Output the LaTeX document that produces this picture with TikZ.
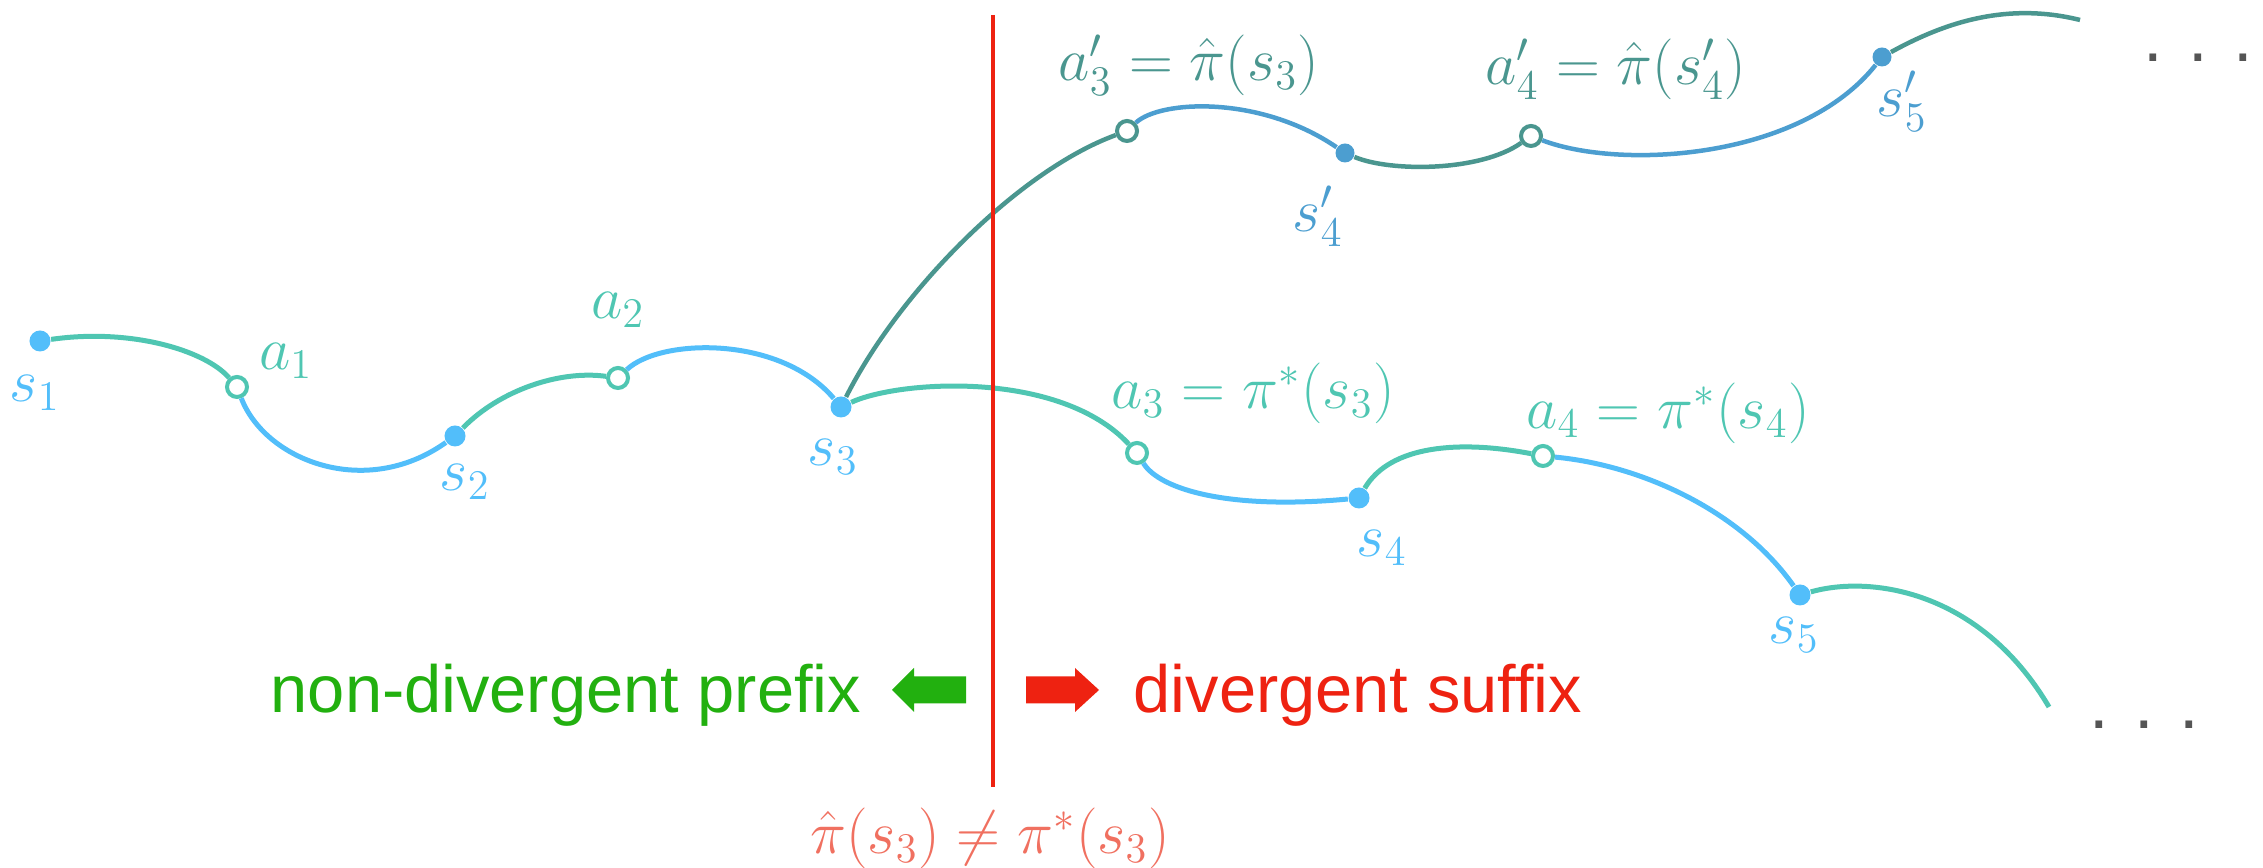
\documentclass[tikz,border=0pt]{standalone}
\usepackage{fontspec}
\setmainfont{Liberation Serif}
\setsansfont{Liberation Sans}
\definecolor{lteal}{HTML}{4FC6B2}
\definecolor{lblue}{HTML}{52BEFA}
\definecolor{uteal}{HTML}{4A968F}
\definecolor{ublue}{HTML}{4C9ED0}
\definecolor{pgreen}{HTML}{22B00F}
\definecolor{pred}{HTML}{EE2211}
\definecolor{psalmon}{HTML}{F07060}
\definecolor{dotgrey}{HTML}{555555}
\begin{document}
\begin{tikzpicture}[x=0.01cm,y=-0.01cm,
  statedot/.style={circle,fill=#1,inner sep=0pt,minimum size=0.21cm},
  ustatedot/.style={circle,fill=#1,inner sep=0pt,minimum size=0.19cm},
  actcircle/.style={circle,draw=#1,fill=white,line width=0.04cm,inner sep=0pt,minimum size=0.20cm},
  seg/.style={line width=0.05cm,draw=#1},
  useg/.style={line width=0.045cm,draw=#1},
  mlab/.style={text=#1,font=\fontsize{16.5}{20}\selectfont,inner sep=0pt},
  sanslab/.style={text=#1,font=\sffamily\fontsize{19}{22}\selectfont,inner sep=0pt},
  ell/.style={text=dotgrey,font=\sffamily\fontsize{20}{24}\selectfont,inner sep=0pt,anchor=base}
]
\useasboundingbox (0,0) rectangle (2263,868);
% lower trajectory
\node[statedot=lblue] (s1) at (40,341) {};
\node[actcircle=lteal] (a1) at (237,387) {};
\node[statedot=lblue] (s2) at (455,436) {};
\node[actcircle=lteal] (a2) at (618,378) {};
\node[statedot=lblue] (s3) at (841,407) {};
\node[actcircle=lteal] (a3) at (1137,453) {};
\node[statedot=lblue] (s4) at (1359,498) {};
\node[actcircle=lteal] (a4) at (1543,456) {};
\node[statedot=lblue] (s5) at (1800,595) {};
\coordinate (e1) at (2049,707);
% upper trajectory
\node[actcircle=uteal] (a3p) at (1127,131) {};
\node[ustatedot=ublue] (s4p) at (1345,153) {};
\node[actcircle=uteal] (a4p) at (1531,136) {};
\node[ustatedot=ublue] (s5p) at (1882,57) {};
\coordinate (e2) at (2080,20);
% segments
\draw[seg=lteal] (s1) .. controls (130,328) and (205,350) .. (a1);
\draw[seg=lblue] (a1) .. controls (265,460) and (365,500) .. (s2);
\draw[seg=lteal] (s2) .. controls (500,390) and (560,370) .. (a2);
\draw[seg=lblue] (a2) .. controls (660,338) and (780,335) .. (s3);
\draw[seg=lteal] (s3) .. controls (900,380) and (1060,370) .. (a3);
\draw[seg=lblue] (a3) .. controls (1160,490) and (1230,510) .. (s4);
\draw[seg=lteal] (s4) .. controls (1390,445) and (1460,440) .. (a4);
\draw[seg=lblue] (a4) .. controls (1640,465) and (1740,510) .. (s5);
\draw[seg=lteal] (s5) .. controls (1870,575) and (1980,590) .. (e1);
\draw[useg=uteal] (s3) .. controls (900,290) and (1020,170) .. (a3p);
\draw[useg=ublue] (a3p) .. controls (1160,100) and (1260,95) .. (s4p);
\draw[useg=uteal] (s4p) .. controls (1390,172) and (1480,172) .. (a4p);
\draw[useg=ublue] (a4p) .. controls (1620,170) and (1800,160) .. (s5p);
\draw[useg=uteal] (s5p) .. controls (1935,28) and (2000,0) .. (e2);
% divider
\coordinate (rtop) at (993,15);
\coordinate (rbot) at (993,787);
\draw[pred,line width=0.045cm] (rtop) -- (rbot);
% labels
\node[mlab=lblue] (ls1) at (35,393) {$s_1$};
\node[mlab=lteal] (la1) at (286,361) {$a_1$};
\node[mlab=lblue] (ls2) at (465,482) {$s_2$};
\node[mlab=lteal] (la2) at (618,310) {$a_2$};
\node[mlab=lblue] (ls3) at (833,457) {$s_3$};
\node[mlab=lteal] (la3) at (1253,393) {$a_3=\pi^*(s_3)$};
\node[mlab=lblue] (ls4) at (1382,548) {$s_4$};
\node[mlab=lteal] (la4) at (1668,413) {$a_4=\pi^*(s_4)$};
\node[mlab=lblue] (ls5) at (1794,635) {$s_5$};
\node[mlab=uteal] (la3p) at (1189,65) {$a_3'=\hat{\pi}(s_3)$};
\node[mlab=ublue] (ls4p) at (1318,216) {$s_4'$};
\node[mlab=uteal] (la4p) at (1616,69) {$a_4'=\hat{\pi}(s_4')$};
\node[mlab=ublue] (ls5p) at (1902,101) {$s_5'$};
\node[mlab=psalmon] (ldiv) at (990,838) {$\hat{\pi}(s_3)\neq\pi^*(s_3)$};
% prefix / suffix
\node[sanslab=pgreen,anchor=base east] (lpre) at (862,713) {non-divergent prefix};
\node[sanslab=pred,anchor=base west] (lsuf) at (1133,713) {divergent suffix};
\fill[pgreen] (892,690) -- (914,668) -- (914,676.5) -- (966,676.5) -- (966,703.5) -- (914,703.5) -- (914,712) -- cycle;
\fill[pred] (1099,690) -- (1075,668) -- (1075,676.5) -- (1026,676.5) -- (1026,703.5) -- (1075,703.5) -- (1075,712) -- cycle;
% ellipses
\node[ell] (dtop) at (2198,62) {.\hspace{7.2pt}.\hspace{7.2pt}.};
\node[ell] (dbot) at (2144,729) {.\hspace{7.2pt}.\hspace{7.2pt}.};
\end{tikzpicture}
\end{document}
